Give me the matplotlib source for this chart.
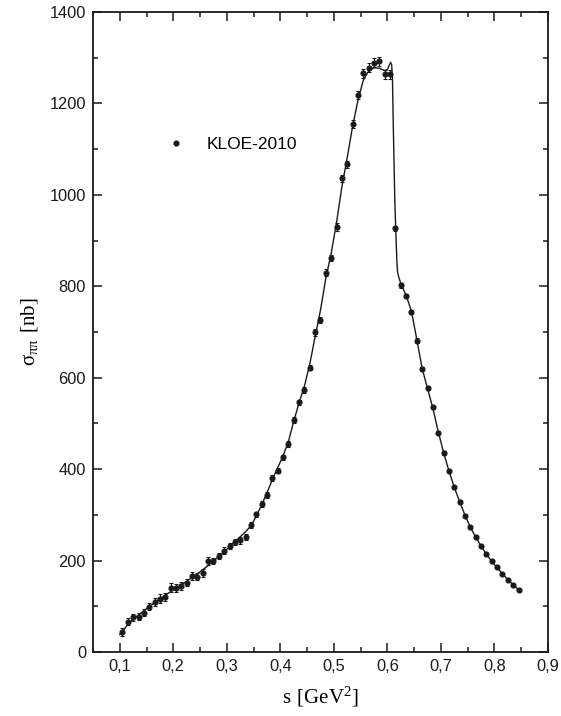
import numpy as np
from matplotlib import pyplot as plt
from matplotlib.ticker import MultipleLocator, FuncFormatter
from matplotlib.lines import Line2D

# KLOE-2010 data points (s in GeV^2, sigma in nb)
s_data = [0.105, 0.115, 0.125, 0.135, 0.145, 0.155, 0.165, 0.175, 0.185, 0.195,
          0.205, 0.215, 0.225, 0.235, 0.245, 0.255, 0.265, 0.275, 0.285, 0.295,
          0.305, 0.315, 0.325, 0.335, 0.345, 0.355, 0.365, 0.375, 0.385, 0.395,
          0.405, 0.415, 0.425, 0.435, 0.445, 0.455, 0.465, 0.475, 0.485, 0.495,
          0.505, 0.515, 0.525, 0.535, 0.545, 0.555, 0.565, 0.575, 0.585, 0.595,
          0.605, 0.615, 0.625, 0.635, 0.645, 0.655, 0.665, 0.675, 0.685, 0.695,
          0.705, 0.715, 0.725, 0.735, 0.745, 0.755, 0.765, 0.775, 0.785, 0.795,
          0.805, 0.815, 0.825, 0.835, 0.845]
sigma_data = [44, 66, 76, 77, 86, 99, 110, 117, 121, 141,
              140, 145, 152, 166, 165, 173, 199, 199, 210, 222,
              232, 241, 244, 252, 278, 301, 324, 343, 381, 397,
              426, 455, 507, 546, 573, 622, 699, 726, 830, 862,
              930, 1036, 1067, 1155, 1218, 1266, 1278, 1289, 1292, 1264,
              1264, 927, 802, 779, 744, 681, 619, 577, 535, 480,
              436, 396, 360, 329, 298, 273, 251, 232, 214, 198,
              185, 171, 158, 147, 136]
sigma_err = [8, 8, 8, 8, 8, 8, 9, 9, 9, 9,
             9, 9, 8, 8, 8, 8, 8, 7, 7, 7,
             7, 7, 7, 7, 7, 6, 6, 6, 6, 6,
             6, 6, 6, 6, 6, 6, 7, 7, 7, 7,
             8, 8, 8, 8, 9, 10, 10, 10, 10, 10,
             10, 6, 6, 5, 5, 5, 4, 4, 4, 4,
             4, 3, 3, 3, 3, 3, 3, 3, 3, 3,
             2, 2, 2, 2, 2]

# theoretical curve
s_curve = [0.100, 0.105, 0.115, 0.125, 0.135, 0.145, 0.155, 0.165, 0.175, 0.185,
           0.195, 0.205, 0.215, 0.225, 0.235, 0.245, 0.255, 0.265, 0.275, 0.285,
           0.295, 0.305, 0.315, 0.325, 0.335, 0.345, 0.355, 0.365, 0.375, 0.385,
           0.395, 0.405, 0.415, 0.425, 0.435, 0.445, 0.455, 0.465, 0.475, 0.485,
           0.495, 0.505, 0.515, 0.525, 0.535, 0.545, 0.555, 0.565, 0.575, 0.585,
           0.595, 0.600, 0.6035, 0.6060, 0.6080, 0.6095, 0.611, 0.6138, 0.6155,
           0.6175, 0.619, 0.622, 0.625, 0.635, 0.645, 0.655, 0.665, 0.675, 0.685,
           0.695, 0.705, 0.715, 0.725, 0.735, 0.745, 0.755, 0.765, 0.775, 0.785,
           0.795, 0.805, 0.815, 0.825, 0.835, 0.845]
sigma_curve = [38, 44, 61, 72, 81, 90, 99, 108, 116, 124,
               132, 140, 147, 155, 163, 171, 180, 189, 199, 209,
               219, 230, 241, 252, 263, 276, 297, 322, 348, 377,
               403, 429, 460, 505, 545, 582, 630, 690, 748, 818,
               872, 940, 1018, 1082, 1150, 1207, 1251, 1271, 1278, 1277,
               1272, 1274, 1284, 1290, 1285, 1250, 1150, 990, 927,
               860, 830, 817, 806, 780, 745, 683, 620, 576, 533,
               482, 436, 396, 360, 329, 299, 273, 251, 232, 214,
               198, 184, 171, 158, 147, 136]

x_ticks = [0.1, 0.2, 0.3, 0.4, 0.5, 0.6, 0.7, 0.8, 0.9]
y_ticks = [0, 200, 400, 600, 800, 1000, 1200, 1400]

plt.rcParams['font.family'] = ['Liberation Sans', 'DejaVu Sans']
plt.rcParams['mathtext.fontset'] = 'custom'
plt.rcParams['mathtext.rm'] = 'Liberation Serif'

fig = plt.figure(figsize=(5.61, 7.16), dpi=100)
ax = fig.add_axes([0.1658, 0.0894, 0.811, 0.8938])

ax.plot(s_curve, sigma_curve, color='#1a1a1a', lw=1.0, zorder=2)
ax.errorbar(s_data, sigma_data, yerr=sigma_err, fmt='o', ms=3.4, color='#1a1a1a',
            ecolor='#1a1a1a', elinewidth=0.8, capsize=1.5, capthick=0.8, zorder=3)

ax.set_xlim(0.05, 0.9)
ax.set_ylim(0, 1400)
ax.set_xticks(x_ticks)
ax.set_yticks(y_ticks)
ax.xaxis.set_minor_locator(MultipleLocator(0.05))
ax.yaxis.set_minor_locator(MultipleLocator(100))
ax.xaxis.set_major_formatter(FuncFormatter(lambda v, p: ('%.1f' % v).replace('.', ',')))
ax.tick_params(which='both', direction='in', top=True, right=True, width=1.1,
               labelsize=11.8, pad=5, colors='#1a1a1a')
ax.tick_params(which='major', length=6.5)
ax.tick_params(which='minor', length=3.5)
for sp in ax.spines.values():
    sp.set_linewidth(1.3)
    sp.set_color('#1a1a1a')

ax.set_xlabel(r'$\mathrm{s\ [GeV^2]}$', fontsize=15, labelpad=8)
ax.set_ylabel(r'$\mathrm{\sigma_{\pi\pi}\ [nb]}$', fontsize=15, labelpad=7)

handle = Line2D([], [], marker='o', ls='none', ms=3.4, color='#1a1a1a')
ax.legend([handle], ['KLOE-2010'], loc='upper left', bbox_to_anchor=(0.12, 0.83),
          frameon=False, fontsize=12.5, handletextpad=1.0, handlelength=1.5)

plt.savefig("out.png", dpi=100)
